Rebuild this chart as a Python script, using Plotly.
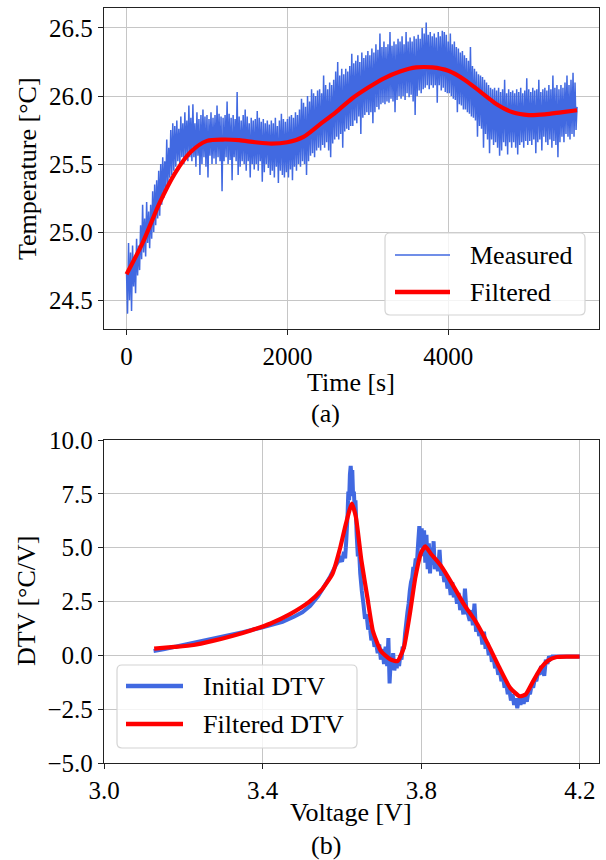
import numpy as np
import plotly.graph_objects as go

# ---------------- data: (a) temperature vs time ----------------
time_step = 12.5  # s, sampling interval of the measured trace
measured_temp = [
    24.70, 24.40, 24.92, 24.50, 24.85, 24.42, 24.90, 24.60, 24.82, 24.55, 24.95, 24.68, 24.90, 24.72, 25.05, 24.80,
    25.20, 24.85, 25.10, 24.82, 25.22, 24.92, 25.15, 24.88, 25.20, 24.95, 25.30, 25.00, 25.35, 25.05, 25.38, 25.10,
    25.45, 25.12, 25.50, 25.20, 25.55, 25.25, 25.52, 25.30, 25.68, 25.32, 25.62, 25.40, 25.75, 25.42, 25.80, 25.45,
    25.78, 25.48, 25.82, 25.52, 25.76, 25.50, 25.85, 25.55, 25.80, 25.50, 25.88, 25.56, 25.82, 25.52, 25.93, 25.55,
    25.84, 25.52, 25.94, 25.55, 25.80, 25.48, 25.88, 25.56, 25.83, 25.42, 25.86, 25.50, 25.90, 25.55, 25.85, 25.48,
    25.86, 25.40, 25.83, 25.56, 25.88, 25.50, 25.84, 25.54, 25.86, 25.50, 25.93, 25.55, 25.87, 25.52, 25.85, 25.30,
    25.84, 25.52, 25.86, 25.55, 25.96, 25.50, 25.87, 25.53, 25.84, 25.38, 25.86, 25.55, 25.83, 25.52, 26.03, 25.42,
    25.85, 25.48, 25.82, 25.52, 25.86, 25.50, 25.90, 25.45, 25.85, 25.52, 25.80, 25.40, 25.84, 25.50, 25.82, 25.46,
    25.83, 25.50, 25.89, 25.45, 25.84, 25.52, 25.81, 25.37, 25.83, 25.44, 25.80, 25.50, 25.82, 25.47, 25.79, 25.42,
    25.82, 25.45, 25.80, 25.40, 25.84, 25.48, 25.78, 25.36, 25.82, 25.45, 25.87, 25.42, 25.83, 25.40, 25.81, 25.44,
    25.83, 25.40, 25.85, 25.46, 25.86, 25.38, 25.84, 25.48, 25.88, 25.45, 25.86, 25.50, 25.90, 25.48, 25.98, 25.52,
    25.95, 25.50, 25.92, 25.42, 26.00, 25.52, 25.96, 25.56, 26.05, 25.58, 26.02, 25.55, 26.00, 25.60, 26.04, 25.62,
    26.05, 25.60, 26.02, 25.64, 26.15, 25.62, 26.08, 25.66, 26.05, 25.60, 26.10, 25.55, 26.08, 25.65, 26.12, 25.68,
    26.18, 25.70, 26.25, 25.68, 26.15, 25.72, 26.20, 25.62, 26.16, 25.74, 26.20, 25.76, 26.18, 25.75, 26.22, 25.78,
    26.31, 25.78, 26.24, 25.82, 26.26, 25.80, 26.30, 25.85, 26.25, 25.72, 26.32, 25.84, 26.28, 25.86, 26.30, 25.88,
    26.33, 25.86, 26.30, 25.88, 26.35, 25.80, 26.32, 25.88, 26.38, 25.92, 26.34, 25.90, 26.46, 25.94, 26.36, 25.95,
    26.40, 25.94, 26.36, 25.96, 26.38, 25.95, 26.47, 25.98, 26.37, 25.96, 26.40, 25.88, 26.38, 25.97, 26.42, 26.00,
    26.40, 25.98, 26.44, 26.00, 26.38, 25.97, 26.47, 26.02, 26.40, 25.99, 26.43, 26.01, 26.40, 25.96, 26.44, 25.86,
    26.42, 26.00, 26.45, 26.04, 26.42, 26.02, 26.50, 26.05, 26.46, 26.06, 26.54, 26.08, 26.45, 26.05, 26.47, 26.08,
    26.44, 26.06, 26.46, 26.08, 26.43, 25.95, 26.47, 26.08, 26.44, 26.04, 26.48, 26.06, 26.47, 26.03, 26.45, 26.02,
    26.40, 26.02, 26.46, 26.00, 26.38, 25.98, 26.40, 25.97, 26.36, 25.88, 26.35, 25.94, 26.32, 25.93, 26.33, 25.90,
    26.30, 25.90, 26.28, 25.88, 26.26, 25.87, 26.36, 25.85, 26.22, 25.84, 26.20, 25.82, 26.18, 25.70, 26.16, 25.78,
    26.15, 25.76, 26.14, 25.62, 26.12, 25.72, 26.10, 25.68, 26.08, 25.58, 26.06, 25.68, 26.05, 25.64, 26.06, 25.66,
    26.04, 25.62, 26.06, 25.56, 26.03, 25.60, 26.05, 25.66, 26.12, 25.63, 26.02, 25.57, 26.05, 25.66, 26.03, 25.62,
    26.04, 25.66, 26.02, 25.62, 26.05, 25.57, 26.03, 25.64, 26.06, 25.66, 26.02, 25.62, 26.04, 25.67, 26.13, 25.64,
    26.05, 25.67, 26.03, 25.64, 26.06, 25.68, 26.04, 25.58, 26.05, 25.66, 26.12, 25.68, 26.03, 25.60, 26.05, 25.70,
    26.06, 25.66, 26.04, 25.64, 26.08, 25.68, 26.05, 25.62, 26.15, 25.67, 26.06, 25.64, 26.08, 25.55, 26.05, 25.66,
    26.08, 25.70, 26.06, 25.66, 26.10, 25.72, 26.15, 25.70, 26.08, 25.68, 26.12, 25.72, 26.17, 25.70, 26.10, 25.75,
    25.92,
]
measured_time = np.arange(len(measured_temp)) * time_step

filtered_time = [0, 200, 400, 600, 800, 1000, 1200, 1400, 1600, 1800,
                 2000, 2200, 2400, 2600, 2800, 3000, 3200, 3400, 3600, 3800,
                 4000, 4200, 4400, 4600, 4800, 5000, 5200, 5400, 5600]
filtered_temp = [24.69, 24.92, 25.20, 25.43, 25.59, 25.67, 25.68, 25.675, 25.66, 25.65,
                 25.66, 25.70, 25.79, 25.88, 25.98, 26.06, 26.13, 26.18, 26.21, 26.21,
                 26.185, 26.12, 26.03, 25.94, 25.88, 25.86, 25.865, 25.88, 25.895]

temp_ticks = [24.5, 25.0, 25.5, 26.0, 26.5]
temp_ticktext = ["24.5", "25.0", "25.5", "26.0", "26.5"]
time_ticks = [0, 2000, 4000]
time_ticktext = ["0", "2000", "4000"]

# ---------------- data: (b) DTV vs voltage ----------------
initial_voltage = [
    3.125, 3.15, 3.20, 3.25, 3.30, 3.35, 3.40, 3.45, 3.48, 3.50,
    3.52, 3.54, 3.555, 3.57, 3.585, 3.595, 3.600, 3.605, 3.608, 3.611,
    3.614, 3.616, 3.618, 3.620, 3.622, 3.624, 3.626, 3.628, 3.630, 3.632,
    3.634, 3.637, 3.640, 3.643, 3.646, 3.650, 3.654, 3.658, 3.662, 3.666,
    3.670, 3.674, 3.678, 3.682, 3.686, 3.690, 3.694, 3.698, 3.702, 3.706,
    3.710, 3.714, 3.717, 3.720, 3.723, 3.726, 3.729, 3.732, 3.735, 3.738,
    3.741, 3.744, 3.747, 3.750, 3.753, 3.756, 3.759, 3.762, 3.765, 3.768,
    3.771, 3.774, 3.777, 3.780, 3.783, 3.786, 3.789, 3.792, 3.795, 3.798,
    3.801, 3.804, 3.807, 3.810, 3.813, 3.816, 3.819, 3.822, 3.825, 3.828,
    3.831, 3.834, 3.838, 3.842, 3.846, 3.850, 3.854, 3.858, 3.862, 3.866,
    3.870, 3.874, 3.878, 3.882, 3.886, 3.890, 3.894, 3.898, 3.902, 3.906,
    3.910, 3.914, 3.918, 3.922, 3.926, 3.930, 3.934, 3.938, 3.942, 3.946,
    3.950, 3.954, 3.958, 3.962, 3.966, 3.970, 3.974, 3.978, 3.982, 3.986,
    3.990, 3.994, 3.998, 4.002, 4.006, 4.010, 4.014, 4.018, 4.022, 4.026,
    4.030, 4.034, 4.038, 4.042, 4.046, 4.050, 4.054, 4.058, 4.062, 4.066,
    4.070, 4.074, 4.078, 4.082, 4.086, 4.090, 4.094, 4.098, 4.102, 4.106,
    4.110, 4.114, 4.118, 4.122, 4.126, 4.130, 4.150, 4.200,
]
initial_dtv = [
    0.20, 0.28, 0.48, 0.68, 0.88, 1.08, 1.30, 1.55, 1.80, 2.00,
    2.30, 2.75, 3.20, 3.65, 4.20, 4.50, 4.35, 4.80, 4.50, 5.40,
    6.50, 7.60, 7.20, 8.40, 8.80, 8.20, 8.60, 7.40, 7.60, 6.80,
    7.20, 5.60, 4.60, 4.90, 3.80, 3.00, 2.40, 1.70, 1.90, 1.20,
    1.40, 0.70, 0.90, 0.40, 0.60, 0.10, 0.50, -0.20, 0.30, -0.40,
    0.40, -0.50, 0.80, -1.30, -0.20, -0.60, 0.10, -0.70, -0.30, -0.60,
    -0.20, -0.50, 0.00, -0.20, 0.40, 0.30, 1.00, 1.50, 2.00, 2.40,
    3.00, 3.40, 3.60, 4.10, 4.00, 4.50, 4.30, 5.20, 6.00, 5.00,
    5.90, 4.60, 5.80, 4.30, 5.60, 4.00, 5.20, 3.80, 5.00, 4.20,
    5.30, 4.00, 4.50, 3.90, 4.90, 3.70, 4.00, 3.40, 3.80, 3.10,
    3.50, 2.80, 3.40, 2.70, 3.00, 2.40, 2.90, 2.10, 2.60, 1.90,
    3.10, 2.00, 1.90, 1.60, 2.10, 1.40, 2.40, 1.10, 1.40, 0.90,
    1.10, 0.50, 1.10, 0.30, 0.60, 0.00, 0.30, -0.30, -0.10, -0.60,
    -0.40, -0.90, -0.70, -1.20, -1.00, -1.50, -1.30, -1.80, -1.60, -2.10,
    -1.80, -2.30, -2.00, -2.45, -2.00, -2.30, -1.95, -2.25, -1.90, -2.15,
    -1.70, -1.80, -1.40, -1.50, -1.10, -1.20, -0.80, -0.90, -0.50, -0.70,
    -0.95, -0.20, -0.40, -0.05, -0.15, -0.05, -0.05, -0.05,
]

filtered_voltage = [3.1265, 3.177, 3.226, 3.274, 3.323, 3.372, 3.420, 3.469, 3.518, 3.547,
                    3.576, 3.596, 3.610, 3.625, 3.635, 3.649, 3.664, 3.678, 3.698, 3.722,
                    3.740, 3.756, 3.771, 3.785, 3.800, 3.810, 3.824, 3.849, 3.878, 3.907,
                    3.936, 3.966, 3.995, 4.024, 4.048, 4.063, 4.082, 4.102, 4.121, 4.141,
                    4.170, 4.199]
filtered_dtv = [0.31, 0.39, 0.48, 0.67, 0.90, 1.17, 1.48, 1.91, 2.49, 3.00,
                3.78, 5.03, 6.12, 7.05, 6.43, 4.40, 2.69, 1.13, 0.20, -0.19,
                -0.27, 0.36, 1.91, 3.62, 4.79, 5.06, 4.72, 4.17, 3.31, 2.38,
                1.60, 0.59, -0.50, -1.51, -1.90, -1.82, -1.20, -0.58, -0.23, -0.08,
                -0.06, -0.06]

dtv_ticks = [-5.0, -2.5, 0.0, 2.5, 5.0, 7.5, 10.0]
dtv_ticktext = ["\u22125.0", "\u22122.5", "0.0", "2.5", "5.0", "7.5", "10.0"]
volt_ticks = [3.0, 3.4, 3.8, 4.2]
volt_ticktext = ["3.0", "3.4", "3.8", "4.2"]

# ---------------- styling ----------------
W, H = 606, 860
ML, MR, MT, MB = 104, 7, 8, 97
FONT = "'Liberation Serif', 'Times New Roman', 'DejaVu Serif', serif"
BLUE = "#4169E1"
RED = "#FF0000"
GRID = "#c6c6c6"


def px(x):
    return (x - ML) / (W - ML - MR)


def py(y):
    return (H - MB - y) / (H - MT - MB)


fig = go.Figure()

fig.add_trace(go.Scatter(x=measured_time, y=measured_temp, mode="lines",
                         line=dict(color=BLUE, width=1.5, simplify=False), name="Measured",
                         xaxis="x", yaxis="y", showlegend=False))
fig.add_trace(go.Scatter(x=filtered_time, y=filtered_temp, mode="lines",
                         line=dict(color=RED, width=4.2, shape="spline", smoothing=0.8),
                         name="Filtered", xaxis="x", yaxis="y", showlegend=False))
fig.add_trace(go.Scatter(x=initial_voltage, y=initial_dtv, mode="lines",
                         line=dict(color=BLUE, width=4, simplify=False), name="Initial DTV",
                         xaxis="x2", yaxis="y2", showlegend=False))
fig.add_trace(go.Scatter(x=filtered_voltage, y=filtered_dtv, mode="lines",
                         line=dict(color=RED, width=4.2, shape="spline", smoothing=0.5),
                         name="Filtered DTV", xaxis="x2", yaxis="y2", showlegend=False))

axis_common = dict(
    showline=True, mirror=True, linecolor="#222222", linewidth=1.3,
    showgrid=True, gridcolor=GRID, gridwidth=1.2, zeroline=False,
    ticks="outside", ticklen=5, tickwidth=1.2, tickcolor="#222222",
    tickfont=dict(family=FONT, size=25, color="black"),
    tickmode="array",
)

top_domain = [(H - MB - 329) / (H - MT - MB), 1.0]
bot_domain = [0.0, (H - MB - 440) / (H - MT - MB)]

fig.update_layout(
    width=W, height=H,
    margin=dict(l=ML, r=MR, t=MT, b=MB, autoexpand=False),
    paper_bgcolor="white", plot_bgcolor="white",
    showlegend=False,
    font=dict(family=FONT),
    xaxis=dict(axis_common, domain=[0, 1], anchor="y", range=[-280, 5873],
               tickvals=time_ticks, ticktext=time_ticktext),
    yaxis=dict(axis_common, domain=top_domain, anchor="x", range=[24.287, 26.647],
               tickvals=temp_ticks, ticktext=temp_ticktext),
    xaxis2=dict(axis_common, domain=[0, 1], anchor="y2", range=[3.0, 4.248],
                tickvals=volt_ticks, ticktext=volt_ticktext),
    yaxis2=dict(axis_common, domain=bot_domain, anchor="x2", range=[-5.0, 10.0],
                tickvals=dtv_ticks, ticktext=dtv_ticktext),
)


def text(x, y, s, angle=0, anchor="center"):
    fig.add_annotation(x=px(x), y=py(y), xref="paper", yref="paper", text=s,
                       showarrow=False, textangle=angle, xanchor=anchor,
                       yanchor="middle",
                       font=dict(family=FONT, size=26, color="black"))


# axis titles and panel captions
text(27, 169, "Temperature [°C]", angle=-90)
text(351, 382, "Time [s]")
text(325, 413, "(a)")
text(26, 601, "DTV [°C/V]", angle=-90)
text(351, 813, "Voltage [V]")
text(326, 845, "(b)")


def rounded_box(x0, y0, x1, y1, r=5):
    pts = [
        ("M", (x0 + r, y0)), ("L", (x1 - r, y0)),
        ("Q", (x1, y0), (x1, y0 + r)), ("L", (x1, y1 - r)),
        ("Q", (x1, y1), (x1 - r, y1)), ("L", (x0 + r, y1)),
        ("Q", (x0, y1), (x0, y1 - r)), ("L", (x0, y0 + r)),
        ("Q", (x0, y0), (x0 + r, y0)),
    ]
    parts = []
    for item in pts:
        cmd, coords = item[0], item[1:]
        parts.append(cmd + " ".join(f"{px(cx):.5f},{py(cy):.5f}" for cx, cy in coords))
    path = " ".join(parts) + " Z"
    fig.add_shape(type="path", path=path, xref="paper", yref="paper",
                  fillcolor="rgba(255,255,255,0.8)",
                  line=dict(color="#d4d4d4", width=1.2), layer="above")


def legend_entry(x0, x1, y, color, width, label, tx):
    fig.add_shape(type="line", x0=px(x0), x1=px(x1), y0=py(y), y1=py(y),
                  xref="paper", yref="paper", line=dict(color=color, width=width),
                  layer="above")
    text(tx, y, label, anchor="left")


# legend of panel (a)
rounded_box(385, 233, 585, 315)
legend_entry(395, 450, 255, BLUE, 1.6, "Measured", 468)
legend_entry(395, 450, 292, RED, 4.5, "Filtered", 468)

# legend of panel (b)
rounded_box(117, 665, 357, 748)
legend_entry(126, 183, 686, BLUE, 4.5, "Initial DTV", 201)
legend_entry(126, 183, 724, RED, 4.5, "Filtered DTV", 201)

fig.write_html("out.html")
